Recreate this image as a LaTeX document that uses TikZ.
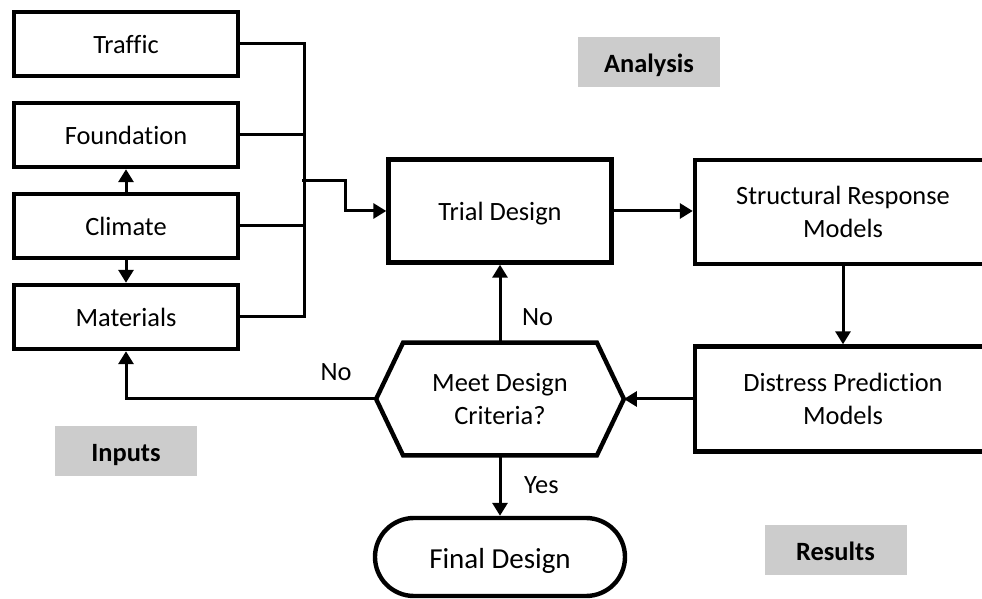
\documentclass[tikz,border=0pt]{standalone}
\usepackage{fontspec}
\setmainfont{Carlito}[Ligatures=NoCommon]
\usetikzlibrary{arrows.meta,positioning}

\begin{document}
\begin{tikzpicture}[x=0.5pt, y=-0.5pt, node distance=45.5pt, font=\fontsize{13.2}{16.8}\selectfont]
  \tikzstyle{inbox} = [rectangle, draw, line width=2.2pt, minimum width=112pt, minimum height=32pt, text centered,
                                    text height=13pt, text depth=3pt]
  \tikzstyle{stepbox} = [rectangle, draw, line width=2.2pt, align=center]
  \tikzstyle{tag} = [rectangle, fill=black!20, minimum width=71pt, minimum height=25pt,
                                    text height=13pt, text depth=3pt, font=\fontsize{13.2}{16.8}\selectfont\bfseries]
  \tikzstyle{flow} = [-{Triangle[length=6.5pt,width=7.5pt]}, line width=1.5pt]
  \tikzstyle{bus} = [line width=1.5pt]
\useasboundingbox (0,0) rectangle (982,599);
\clip (0,0) rectangle (982,599);
\node[inbox] (traffic) at (126,44) {Traffic};
\node[inbox, below of=traffic] (found) {Foundation};
\node[inbox, below of=found] (climate) {Climate};
\node[inbox, below of=climate] (mater) {Materials};
\node[stepbox, minimum width=111.5pt, minimum height=51.5pt, text height=13pt, text depth=3pt] (trial) at (500,211) {Trial Design};
\node[stepbox, minimum width=148pt, minimum height=52pt] (struct) at (843,212) {Structural Response\\Models};
\node[stepbox, minimum width=148pt, minimum height=52.5pt] (distress) at (843,399) {Distress Prediction\\Models};
\node[align=center, minimum width=123.5pt, minimum height=56pt, inner sep=0pt] (check) at (500,399) {Meet Design\\Criteria?};
\draw[line width=2.2pt] ([xshift=13.5pt]check.north west) -- ([xshift=-13.5pt]check.north east) -- (check.east)
  -- ([xshift=-13.5pt]check.south east) -- ([xshift=13.5pt]check.south west) -- (check.west) -- cycle;
\node[draw, line width=2.2pt, rounded corners=19.5pt, minimum width=125pt, minimum height=39pt, text height=14pt,
  text depth=3pt, font=\fontsize{14.5}{17}\selectfont] (final) at (500,557) {Final Design};
\node[tag] (analysis) at (649,62.5) {Analysis};
\node[tag] (inputs) at (126,451.5) {Inputs};
\node[tag] (results) at (835.5,550) {Results};
\coordinate (join) at (302,181);
\draw[flow] (climate) -- (found);
\draw[flow] (climate) -- (mater);
\draw[bus] (traffic.east) -- ++(64,0) |- (mater.east);
\draw[bus] (found.east) -- ++(64,0);
\draw[bus] (climate.east) -- ++(64,0);
\draw[flow] (join) -- ++(43,0) |- (trial.west);
\draw[flow] (trial) -- (trial -| struct.west);
\draw[flow] (struct) -- (distress);
\draw[flow] (distress) -- (check);
\draw[flow] (check) -- node[pos=0.33, right=7pt]{No} (trial);
\draw[flow] (check) -- node[right=8pt]{Yes} (final);
\draw[flow] (check.west) -| node[pos=0.08, above=5pt]{No} (mater.south);
\end{tikzpicture}
\end{document}
